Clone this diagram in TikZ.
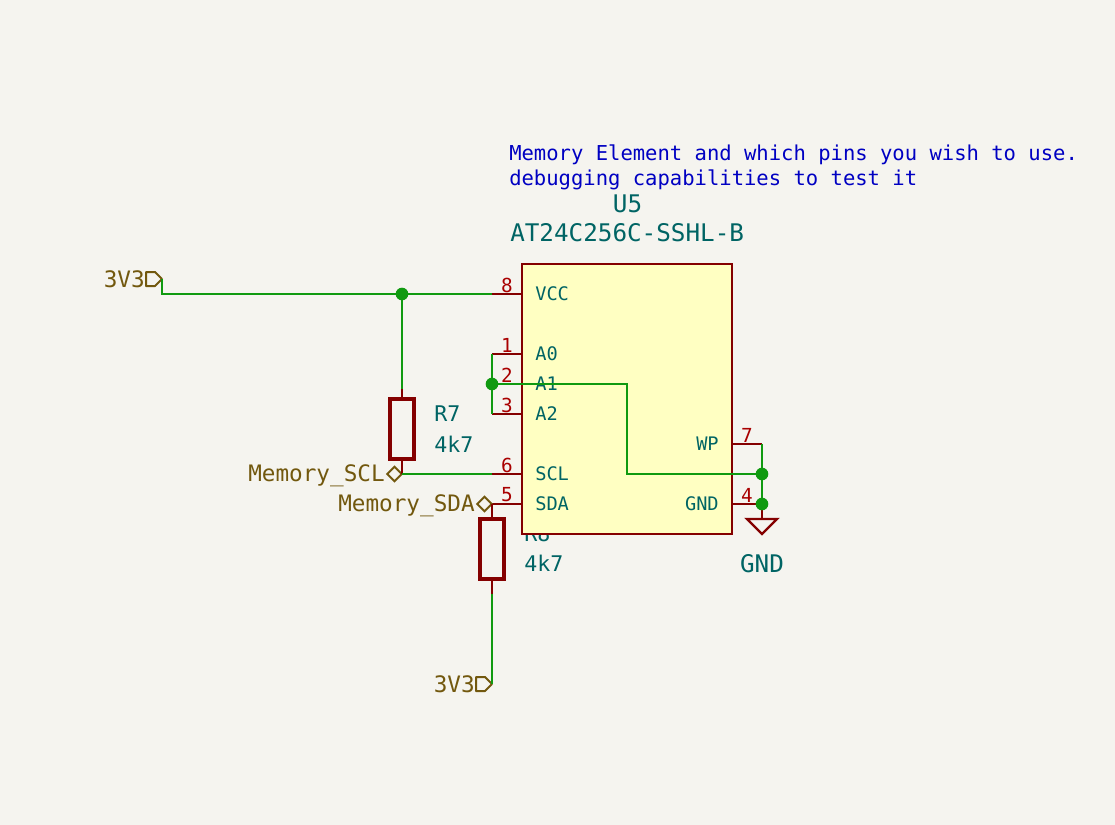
\documentclass[tikz,border=0pt]{standalone}
\usepackage{fontspec}
\setmonofont{DejaVu Sans Mono}
\usetikzlibrary{shapes.geometric}

\definecolor{paper}{HTML}{F5F4EF}
\definecolor{wirecol}{HTML}{109A10}
\definecolor{bodycol}{HTML}{840000}
\definecolor{bodyfill}{HTML}{FFFFC2}
\definecolor{pincol}{HTML}{A90000}
\definecolor{refcol}{HTML}{006464}
\definecolor{flagcol}{HTML}{72580E}
\definecolor{notecol}{HTML}{0000C2}

\tikzset{
  wire/.style={wirecol,line width=1.8pt},
  pinline/.style={bodycol,line width=1.8pt},
  dot/.style={circle,fill=wirecol,inner sep=0pt,minimum size=9.5pt},
  chip/.style={draw=bodycol,fill=bodyfill,line width=1.9pt,inner sep=0pt,minimum width=157.5pt,minimum height=202.5pt},
  res/.style={draw=bodycol,line width=2.7pt,inner sep=0pt,minimum width=18pt,minimum height=45pt},
  flag/.style={draw=flagcol,line width=1.5pt,diamond,aspect=1,inner sep=0pt,minimum size=11.5pt},
  flagtxt/.style={text=flagcol,font=\ttfamily\fontsize{17}{17}\selectfont,inner sep=0pt},
  reftxt/.style={text=refcol,font=\ttfamily\fontsize{18.2}{18.2}\selectfont,inner sep=0pt},
  smallref/.style={reftxt,font=\ttfamily\fontsize{16.2}{16.2}\selectfont,anchor=west},
  notetxt/.style={text=notecol,font=\ttfamily\fontsize{15.4}{15.4}\selectfont,inner sep=0pt,anchor=west},
  pinnum/.style={text=pincol,font=\ttfamily\fontsize{14.5}{14.5}\selectfont,inner sep=0pt},
  pinname/.style={text=refcol,font=\ttfamily\fontsize{14}{14}\selectfont,inner sep=0pt},
}

\begin{document}
\begin{tikzpicture}[x=0.75pt,y=-0.75pt]
  \useasboundingbox[fill=paper] (0,0) rectangle (1115,825);

  % texts above and round the chip
  \node[notetxt] (note1) at (509,155) {Memory Element and which pins you wish to use.};
  \node[notetxt] (note2) at (509,180) {debugging capabilities to test it};
  \node[reftxt] (u5ref) at (627.5,204) {U5};
  \node[reftxt,anchor=west] (u5val) at (510,233) {AT24C256C-SSHL-B};
  \node[smallref] (r7ref) at (434,414) {R7};
  \node[smallref] (r7val) at (434,444) {4k7};
  \node[smallref] (r8ref) at (524,534) {R8};
  \node[smallref] (r8val) at (524,563) {4k7};
  \node[reftxt] (gndtxt) at (762,564) {GND};

  \node[chip] (u5) at (627,399) {};

  % left pins
  \foreach \n/\y/\lbl in {8/294/VCC,1/354/A0,2/384/A1,3/414/A2,6/474/SCL,5/504/SDA} {
    \coordinate (in\n) at (522,\y);
    \coordinate (out\n) at (492,\y);
    \draw[pinline] (in\n) -- (out\n);
    \node[pinnum] (num\n) at (507,\y-9) {\n};
    \node[pinname,anchor=west] (name\n) at (535,\y) {\lbl};
  }
  % right pins
  \foreach \n/\y/\lbl in {7/444/WP,4/504/GND} {
    \coordinate (in\n) at (732,\y);
    \coordinate (out\n) at (762,\y);
    \draw[pinline] (in\n) -- (out\n);
    \node[pinnum] (num\n) at (747,\y-9) {\n};
    \node[pinname,anchor=east] (name\n) at (719,\y) {\lbl};
  }

  % resistors
  \node[res] (r7) at (402,429) {};
  \node[res] (r8) at (492,549) {};

  % flags and labels
  \coordinate (flag1) at (162,279);
  \coordinate (flag2) at (492,684);
  \foreach \f in {flag1,flag2}
    \draw[flagcol,line width=1.5pt,line join=round] (\f) -- ++(-7,-7) -- ++(-9,0) -- ++(0,14) -- ++(9,0) -- cycle;
  \node[flagtxt,anchor=east] (v1) at (145,279) {3V3};
  \node[flagtxt,anchor=east] (v2) at (475,684) {3V3};
  \node[flag] (scl) at (394.5,474) {};
  \node[flag] (sda) at (484.5,504) {};
  \node[flagtxt,anchor=east] (scltxt) at (385,476) {Memory\_SCL};
  \node[flagtxt,anchor=east] (sdatxt) at (475,506) {Memory\_SDA};

  % junctions
  \coordinate (jvcc) at (402,294);
  \coordinate (ja) at (492,384);
  \coordinate (jwp) at (762,474);
  \coordinate (jgnd) at (762,504);
  \coordinate (jscl) at (402,474);
  \coordinate (gndtop) at (762,519);
  \coordinate (r7top) at (402,389);
  \coordinate (r8bot) at (492,594);

  % short red leads
  \draw[pinline] (r7top) -- (r7.north);
  \draw[pinline] (r7.south) -- (jscl);
  \draw[pinline] (out5) -- (r8.north);
  \draw[pinline] (r8.south) -- (r8bot);
  \draw[pinline] (jgnd) -- (gndtop);
  \draw[pinline,line join=miter] (747,519) -- (777,519) -- (762,534) -- cycle;

  % wires
  \draw[wire] (flag1) |- (out8);
  \draw[wire] (jvcc) -- (r7top);
  \draw[wire] (jscl) -- (out6);
  \draw[wire] (out1) -- (out3);
  \draw[wire] (ja) -- (627,384) -- (627,474) -- (jwp);
  \draw[wire] (out7) -- (jgnd);
  \draw[wire] (r8bot) -- (flag2);

  \foreach \j in {jvcc,ja,jwp,jgnd}
    \node[dot] at (\j) {};
\end{tikzpicture}
\end{document}
